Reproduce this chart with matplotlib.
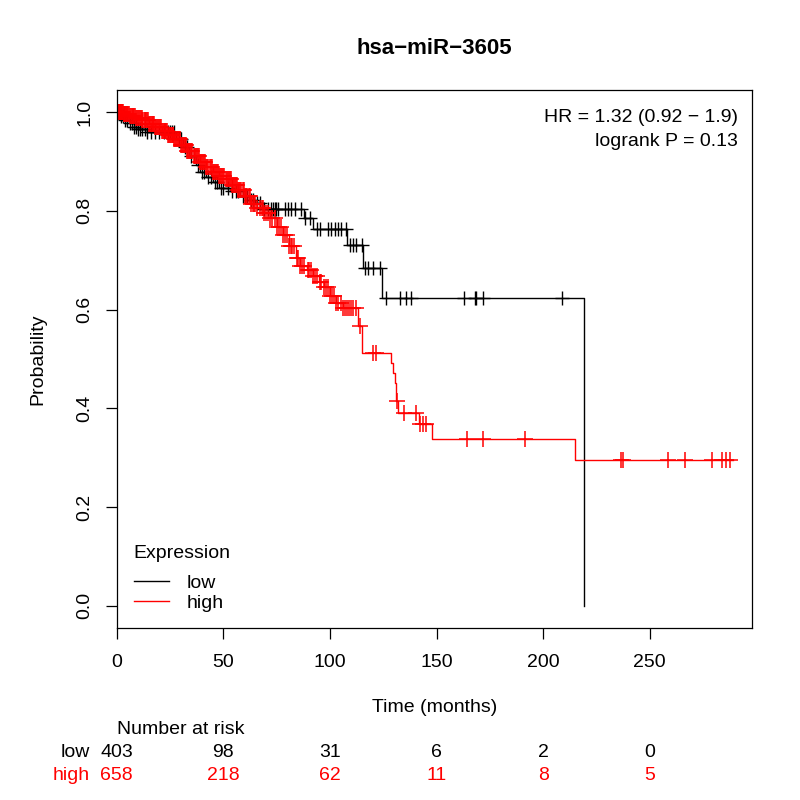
import numpy as np
import matplotlib
matplotlib.use("Agg")
import matplotlib.pyplot as plt
from matplotlib.lines import Line2D
from matplotlib.transforms import blended_transform_factory

plt.rcParams['font.family'] = ['Liberation Sans', 'DejaVu Sans']

# Kaplan-Meier steps (time in months, survival after the step)
low_times = [2, 4, 6, 8, 10, 14, 28, 31, 34, 37, 39, 42, 45, 48, 53, 58, 62, 65, 68,
             88, 92, 108, 115.5, 124.5, 219]
low_surv = [0.993, 0.985, 0.978, 0.970, 0.965, 0.959, 0.945, 0.930, 0.912, 0.893, 0.878,
            0.868, 0.858, 0.847, 0.840, 0.830, 0.823, 0.817, 0.803, 0.786, 0.764, 0.730,
            0.685, 0.624, 0.0]
low_censor = [1, 2, 3, 4, 5, 6, 7, 8, 9, 10, 11, 12, 13, 14, 16, 18, 20, 22, 24, 25, 26,
              27, 29, 30, 32, 33, 35, 36, 38, 40, 41, 43, 44, 46, 47, 49, 50, 52, 54, 56,
              57, 59, 60, 61, 63, 64, 66, 67, 69, 71, 72.5, 73.3, 74, 74.9, 75.6, 78.8,
              80.3, 81.9, 83.5, 86.6, 88.2, 90.5, 93.7, 95.2, 99.1, 100.7, 102.2, 103.8,
              105.4, 107.7, 109.3, 110.8, 112.4, 114.8, 116.3, 117.9, 120.3, 123.4, 126.5,
              133, 135.5, 138, 163, 168, 168.7, 172, 209]

high_times = [3, 6, 9, 12, 15, 18, 21, 24, 27, 30, 33, 36, 39, 42, 45, 48, 51, 54, 57, 60,
              63, 66, 69, 72, 75, 78, 81, 84, 86, 89, 92, 95, 97, 100, 103, 106, 113.2,
              115.2, 128.8, 129.6, 130.4, 131, 132, 141.6, 148.1, 214.8]
high_surv = [0.996, 0.993, 0.989, 0.985, 0.977, 0.970, 0.962, 0.954, 0.946, 0.934, 0.922,
             0.912, 0.900, 0.889, 0.879, 0.870, 0.864, 0.852, 0.842, 0.830, 0.815, 0.805,
             0.795, 0.786, 0.768, 0.752, 0.728, 0.705, 0.688, 0.680, 0.668, 0.655, 0.645,
             0.627, 0.614, 0.603, 0.567, 0.513, 0.492, 0.472, 0.452, 0.414, 0.391, 0.368,
             0.338, 0.295]
high_end = 289
high_censor = [0.2, 0.5, 0.8, 1, 1.3, 1.5, 1.8, 2, 2.3, 2.5, 2.8, 3.2, 3.5, 3.8, 4, 4.4,
               4.7, 5, 5.4, 5.8, 6.2, 6.5, 7, 7.4, 7.8, 8.2, 8.6, 9, 9.5, 10, 10.4, 10.8,
               11.2, 11.6, 12, 12.5, 13, 13.4, 13.8, 14.2, 14.6, 15, 15.5, 16, 16.4, 16.8,
               17.2, 17.6, 18, 18.5, 19, 19.4, 19.8, 20.2, 20.6, 21, 21.5, 22, 22.4, 22.8,
               23.2, 23.6, 24, 24.5, 25, 25.4, 25.8, 26.2, 26.6, 27, 27.5, 28, 28.4, 28.8,
               29.2, 29.6, 30, 30.5, 31, 31.5, 32, 32.5, 33, 33.5, 34, 34.5, 35, 35.5, 36,
               36.5, 37, 37.5, 38, 38.5, 39, 39.5, 40, 40.5, 41, 41.5, 42, 42.5, 43, 43.5,
               44, 44.5, 45, 45.5, 46, 46.5, 47, 47.5, 48, 48.5, 49, 49.5, 50, 50.5, 51,
               51.5, 52, 52.5, 53, 53.5, 54, 54.5, 55, 55.5, 56, 56.5, 57, 57.5, 58, 58.5,
               59, 59.5, 60, 60.5, 61, 62, 62.5, 63, 64, 64.5, 65, 66, 67, 68, 68.5, 69,
               70, 71, 72, 73, 74, 75, 76, 77, 78, 79, 80, 81, 81.5, 82, 83, 84.5, 85, 86,
               87, 88, 89.5, 90, 91, 92, 93, 94, 95.5, 96, 97, 98, 99, 100, 101, 102, 103,
               104, 105, 106, 107, 108, 109, 110, 111, 112, 114, 120.2, 121.8, 131.5,
               134.6, 140.5, 142.1, 143.7, 144.9, 164.3, 171.9, 191.4, 236.4, 237.4, 258.5,
               266.4, 279, 283.8, 285.6, 287.5]

risk_times = [0, 50, 100, 150, 200, 250]
risk_low = [403, 98, 31, 6, 2, 0]
risk_high = [658, 218, 62, 11, 8, 5]

groups = ['low', 'high']
colors = {'low': 'black', 'high': '#FF0000'}


def surv_at(times, surv, t):
    idx = np.searchsorted(times, t, side='right') - 1
    vals = np.array([1.0] + list(surv))
    return vals[idx + 1]


fig = plt.figure(figsize=(8, 8), dpi=100)
ax = fig.add_axes([0.146, 0.215, 0.794, 0.6725])

# low
xl = [0] + low_times
yl = [1.0] + low_surv
ax.step(xl, yl, where='post', color=colors['low'], lw=1.0)
ax.plot(low_censor, surv_at(low_times, low_surv, np.array(low_censor)), '+',
        color=colors['low'], ms=10, mew=1.0)

# high
xh = [0] + high_times + [high_end]
yh = [1.0] + high_surv + [high_surv[-1]]
ax.step(xh, yh, where='post', color=colors['high'], lw=1.0)
ax.plot(high_censor, surv_at(high_times, high_surv, np.array(high_censor)), '+',
        color=colors['high'], ms=11, mew=1.1)

ax.set_xlim(0, 298)
ax.set_ylim(-0.045, 1.045)
ax.set_xticks([0, 50, 100, 150, 200, 250])
ax.set_yticks([0.0, 0.2, 0.4, 0.6, 0.8, 1.0])
ax.set_yticklabels(['0.0', '0.2', '0.4', '0.6', '0.8', '1.0'], rotation=90, va='center')
ax.tick_params(direction='out', length=8, width=0.9, labelsize=14)
ax.tick_params(axis='x', pad=11)
ax.tick_params(axis='y', pad=9)
for s in ax.spines.values():
    s.set_linewidth(0.9)

fig.text(0.543, 0.94, 'hsa\u2212miR\u22123605', ha='center', va='center',
         fontsize=16, fontweight='bold')
fig.text(0.0475, 0.551, 'Probability', rotation=90, ha='center', va='center', fontsize=14)
fig.text(0.543, 0.116, 'Time (months)', ha='center', va='center', fontsize=14)

fig.text(0.9225, 0.8525, 'HR = 1.32 (0.92 \u2212 1.9)', ha='right', va='center', fontsize=14)
fig.text(0.9225, 0.8229, 'logrank P = 0.13', ha='right', va='center', fontsize=14)

handles = [Line2D([], [], color=colors[g], lw=1.0) for g in groups]
leg = ax.legend(handles, groups, title='Expression', loc='upper left',
                bbox_to_anchor=(0.155, 0.3315), bbox_transform=fig.transFigure,
                frameon=False, fontsize=14, title_fontsize=14, handlelength=1.8,
                handletextpad=0.9, labelspacing=0.15, borderpad=0)
leg._legend_box.align = 'left'
leg._legend_box.sep = 9

# number at risk
tr = blended_transform_factory(ax.transData, fig.transFigure)
fig.text(0.146, 0.0875, 'Number at risk', ha='left', va='center', fontsize=14)
fig.text(0.1125, 0.059, 'low', ha='right', va='center', fontsize=14, color=colors['low'])
fig.text(0.1125, 0.031, 'high', ha='right', va='center', fontsize=14, color=colors['high'])
for t, nl, nh in zip(risk_times, risk_low, risk_high):
    ax.text(t, 0.059, str(nl), transform=tr, ha='center', va='center', fontsize=14,
            color=colors['low'])
    ax.text(t, 0.031, str(nh), transform=tr, ha='center', va='center', fontsize=14,
            color=colors['high'])

fig.savefig('out.png', dpi=100)
